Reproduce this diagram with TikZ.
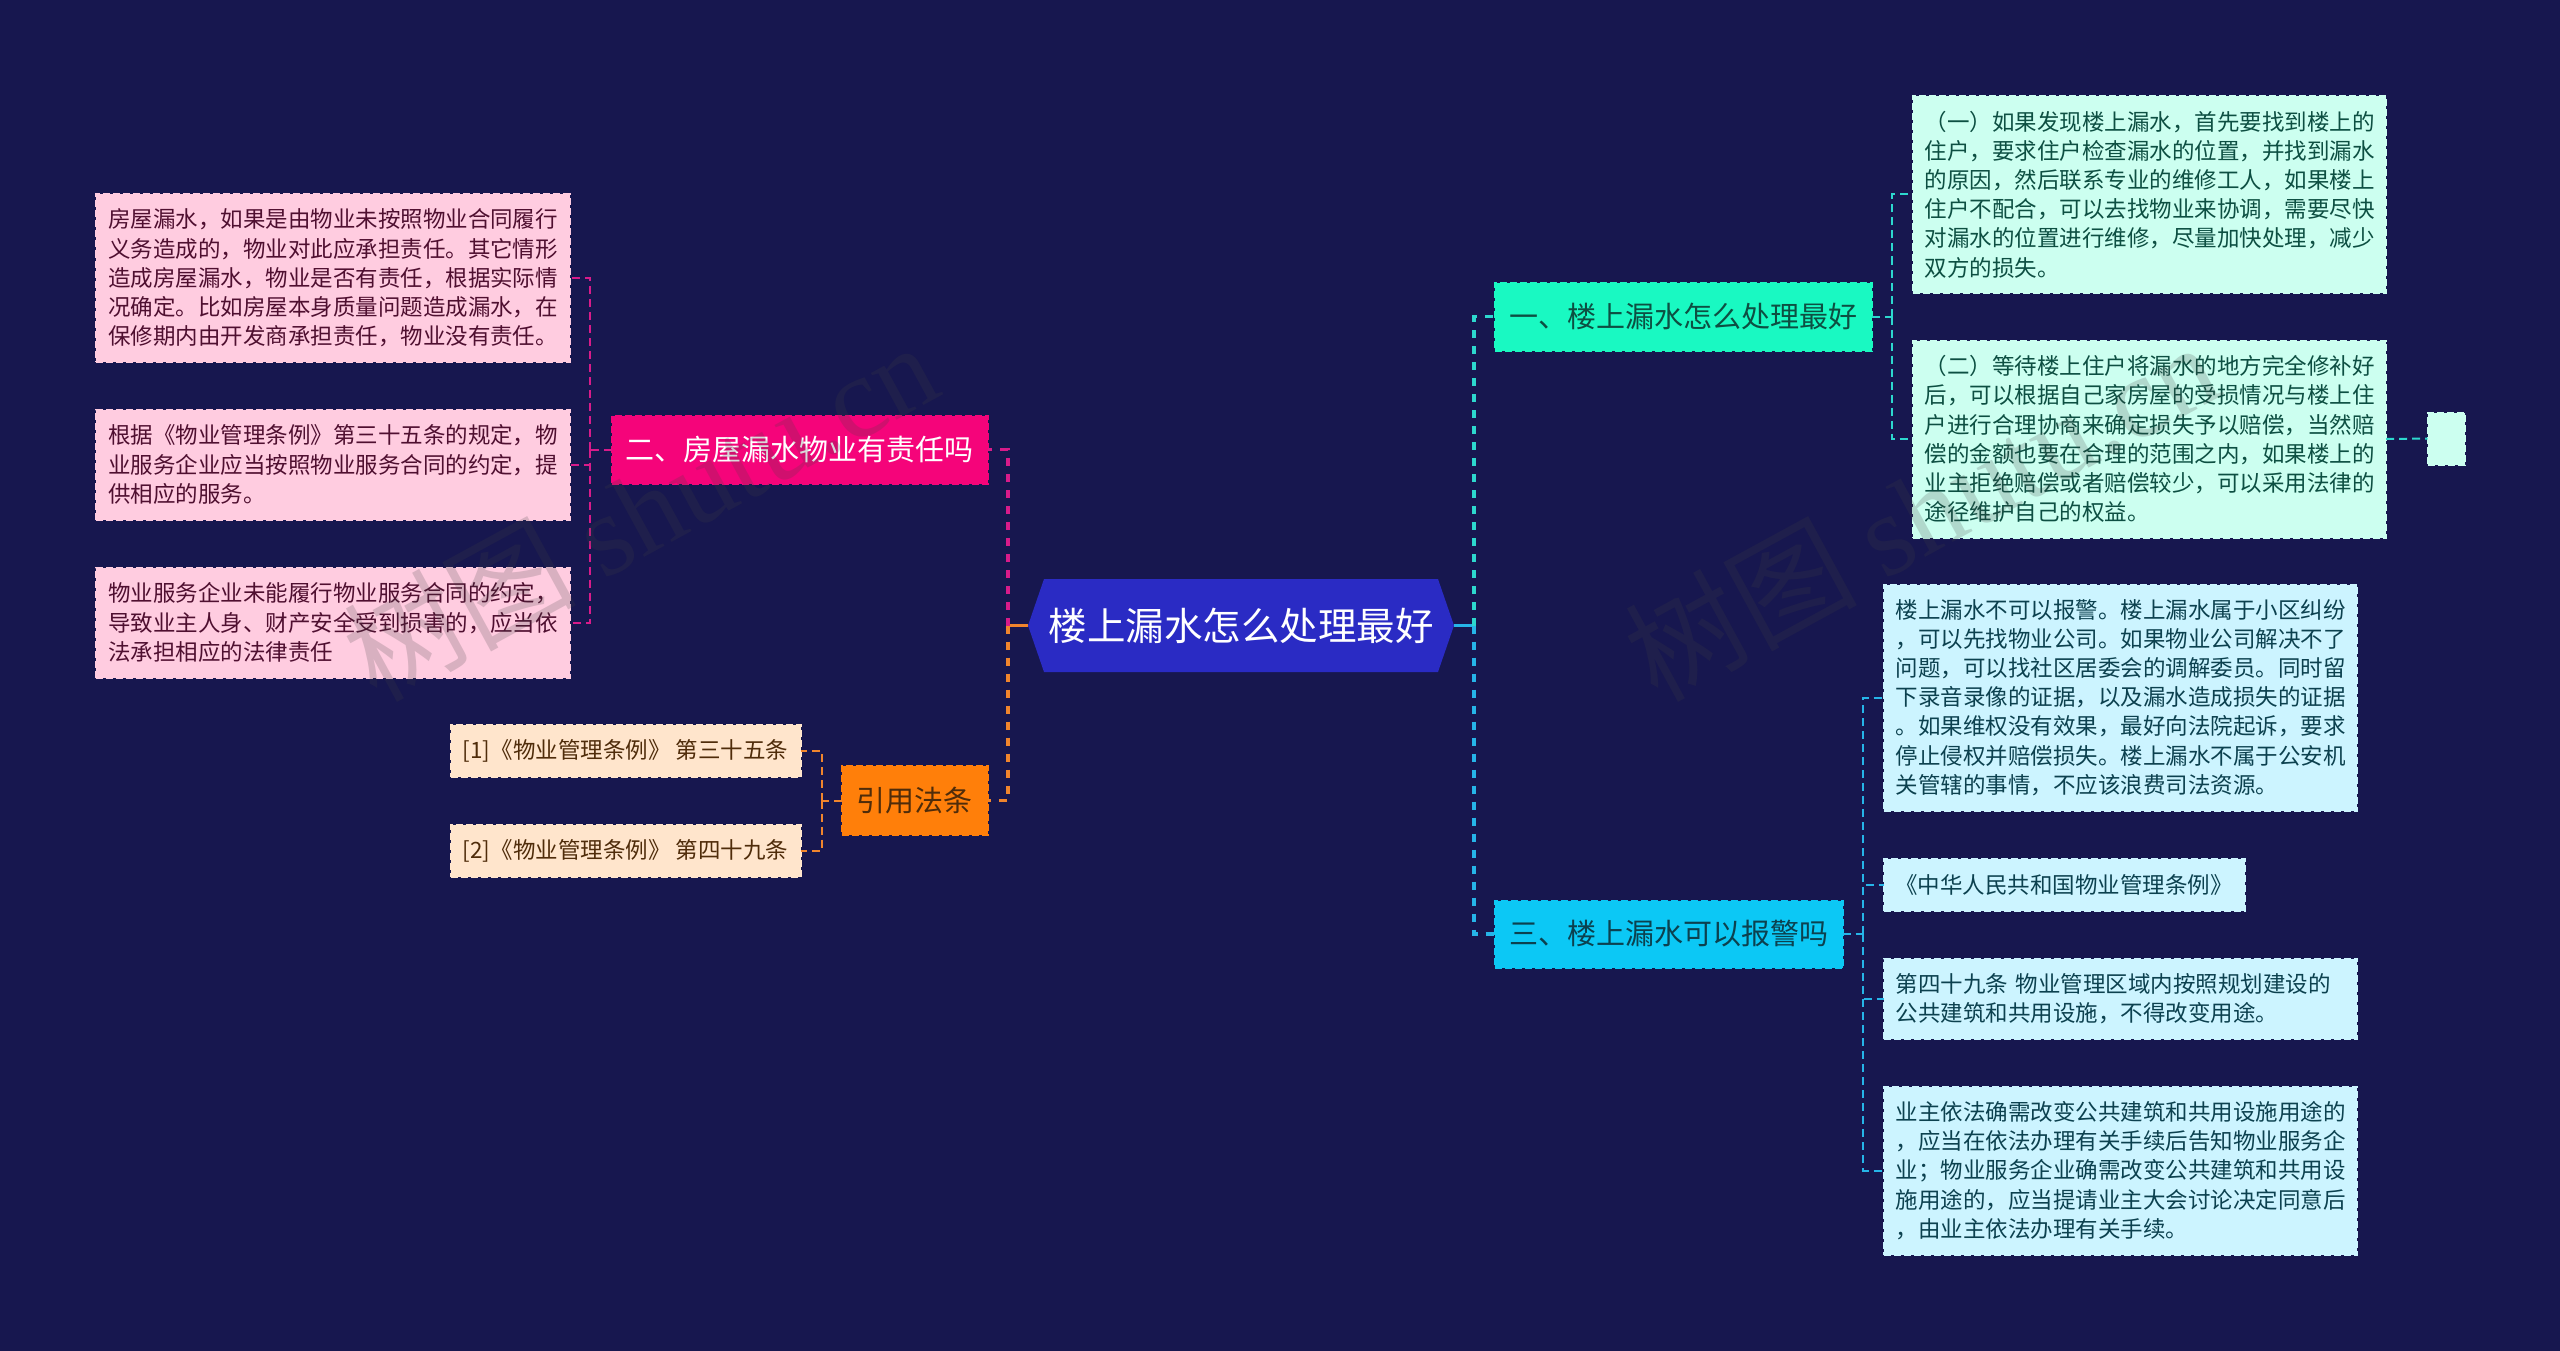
\documentclass[tikz,border=0pt]{standalone}
\usepackage{fontspec}
\setmainfont{Noto Sans CJK SC}
\newfontfamily\markfont{Liberation Serif}
\usetikzlibrary{shapes.symbols}
\definecolor{bgnavy}{HTML}{17174F}
\definecolor{rootblue}{HTML}{2A2BC4}
\definecolor{linkteal}{HTML}{2DD8CE}
\definecolor{linkrose}{HTML}{D81B8A}
\definecolor{linkamber}{HTML}{F0852D}
\definecolor{linksky}{HTML}{26B5E8}
\definecolor{topicteal}{HTML}{19F9C2}
\definecolor{topicrose}{HTML}{F5047A}
\definecolor{topicamber}{HTML}{FF7F0A}
\definecolor{topicsky}{HTML}{0CC8F5}
\definecolor{leafteal}{HTML}{CCFFF0}
\definecolor{leafrose}{HTML}{FFCCE0}
\definecolor{leafamber}{HTML}{FFE5CC}
\definecolor{leafsky}{HTML}{CCF4FF}
\definecolor{inkteal}{HTML}{0D4F42}
\definecolor{inkrose}{HTML}{4F0F30}
\definecolor{inkamber}{HTML}{4F2C0A}
\definecolor{inksky}{HTML}{0C414F}
\tikzset{
  boxbase/.style={rectangle,dash pattern=on 7pt off 3pt,line width=2pt,inner sep=0pt,outer sep=0pt},
  leaf/.style 2 args={boxbase,minimum width=#1-1,minimum height=#2-1,text width=#1-25,
    align=left,font=\fontsize{22.5}{29.2}\selectfont},
  chip/.style 2 args={boxbase,minimum width=#1-1,minimum height=#2-1,
    align=left,font=\fontsize{22.5}{29.2}\selectfont},
  topic/.style 2 args={boxbase,minimum width=#1-1,minimum height=#2-1,
    align=center,font=\fontsize{29}{36}\selectfont},
  tealbox/.style={draw=#1,fill=#1,text=inkteal},
  rosebox/.style={draw=#1,fill=#1,text=inkrose},
  amberbox/.style={draw=#1,fill=#1,text=inkamber},
  skybox/.style={draw=#1,fill=#1,text=inksky},
  hublink/.style={line width=3.5pt},
  mainlink/.style={line width=3.5pt,dash pattern=on 8pt off 8pt},
  twiglink/.style={line width=2pt,dash pattern=on 8pt off 5pt},
  watermark/.style={rotate=28.6,text=black!75,text opacity=0.2,font=\fontsize{116}{116}\selectfont}
}
\begin{document}
\begin{tikzpicture}[x=1pt,y=-1pt]
\fill[bgnavy] (0,0) rectangle (2560,1351);
\useasboundingbox (0,0) rectangle (2560,1351);

\coordinate (hubleft) at (1008,625.5);
\coordinate (hubright) at (1474,625.5);

\node[signal,signal to=west and east,signal pointer angle=142,minimum width=426,minimum height=93,
  inner sep=0pt,outer sep=0pt,fill=rootblue,text=white,font=\fontsize{38.5}{46}\selectfont]
  (root) at (1241,625.5) {楼上漏水怎么处理最好};

\node[topic={378}{69},tealbox=topicteal] (repair) at (1683.5,316.5) {一、楼上漏水怎么处理最好};
\node[topic={377}{69},rosebox=topicrose,text=white] (duty) at (799.5,449.5) {二、房屋漏水物业有责任吗};
\node[topic={147}{70},amberbox=topicamber] (laws) at (914.5,800.5) {引用法条};
\node[topic={349}{68},skybox=topicsky] (police) at (1668.5,934) {三、楼上漏水可以报警吗};

\node[leaf={474.5}{197},tealbox=leafteal] (repairone) at (2149.25,194.5)
  {（一）如果发现楼上漏水，首先要找到楼上的\\住户，要求住户检查漏水的位置，并找到漏水\\的原因，然后联系专业的维修工人，如果楼上\\住户不配合，可以去找物业来协调，需要尽快\\对漏水的位置进行维修，尽量加快处理，减少\\双方的损失。};
\node[leaf={474.5}{198},tealbox=leafteal] (repairtwo) at (2149.25,439)
  {（二）等待楼上住户将漏水的地方完全修补好\\后，可以根据自己家房屋的受损情况与楼上住\\户进行合理协商来确定损失予以赔偿，当然赔\\偿的金额也要在合理的范围之内，如果楼上的\\业主拒绝赔偿或者赔偿较少，可以采用法律的\\途径维护自己的权益。};
\node[chip={38}{53},tealbox=leafteal] (repairnote) at (2446,438.5) {};

\node[leaf={474.5}{168},rosebox=leafrose] (dutyone) at (332.75,278)
  {房屋漏水，如果是由物业未按照物业合同履行\\义务造成的，物业对此应承担责任。其它情形\\造成房屋漏水，物业是否有责任，根据实际情\\况确定。比如房屋本身质量问题造成漏水，在\\保修期内由开发商承担责任，物业没有责任。};
\node[leaf={474.5}{111},rosebox=leafrose] (dutytwo) at (332.75,464.5)
  {根据《物业管理条例》第三十五条的规定，物\\业服务企业应当按照物业服务合同的约定，提\\供相应的服务。};
\node[leaf={474.5}{111},rosebox=leafrose] (dutythree) at (332.75,622.5)
  {物业服务企业未能履行物业服务合同的约定，\\导致业主人身、财产安全受到损害的，应当依\\法承担相应的法律责任};

\node[chip={351}{53},amberbox=leafamber] (lawone) at (625.5,750.5)
  {[1]《物业管理条例》 第三十五条};
\node[chip={351}{53},amberbox=leafamber] (lawtwo) at (625.5,850.5)
  {[2]《物业管理条例》 第四十九条};

\node[leaf={474.5}{227},skybox=leafsky] (policeone) at (2120.25,697.5)
  {楼上漏水不可以报警。楼上漏水属于小区纠纷\\，可以先找物业公司。如果物业公司解决不了\\问题，可以找社区居委会的调解委员。同时留\\下录音录像的证据，以及漏水造成损失的证据\\。如果维权没有效果，最好向法院起诉，要求\\停止侵权并赔偿损失。楼上漏水不属于公安机\\关管辖的事情，不应该浪费司法资源。};
\node[chip={362}{53},skybox=leafsky] (policetwo) at (2064,884.5)
  {《中华人民共和国物业管理条例》};
\node[leaf={474.5}{81},skybox=leafsky] (policethree) at (2120.25,998.5)
  {第四十九条 物业管理区域内按照规划建设的\\公共建筑和共用设施，不得改变用途。};
\node[leaf={474.5}{169},skybox=leafsky] (policefour) at (2120.25,1170.5)
  {业主依法确需改变公共建筑和共用设施用途的\\，应当在依法办理有关手续后告知物业服务企\\业；物业服务企业确需改变公共建筑和共用设\\施用途的，应当提请业主大会讨论决定同意后\\，由业主依法办理有关手续。};

\draw[hublink,linkamber] (root.west) -- (hubleft);
\draw[hublink,linksky] (root.east) -- (hubright);
\draw[mainlink,linkrose] (hubleft) |- (duty.east);
\draw[mainlink,linkamber] (hubleft) |- (laws.east);
\draw[mainlink,linkteal] (hubright) |- (repair.west);
\draw[mainlink,linksky] (hubright) |- (police.west);

\coordinate (hubduty) at (590,449.5);
\coordinate (hublaws) at (822,800.5);
\coordinate (hubrepair) at (1892,316.5);
\coordinate (hubpolice) at (1863,934);

\draw[twiglink,linkrose] (duty.west) -- (hubduty);
\draw[twiglink,linkrose] (hubduty) |- (dutyone.east);
\draw[twiglink,linkrose] (hubduty) |- (dutytwo.east);
\draw[twiglink,linkrose] (hubduty) |- (dutythree.east);

\draw[twiglink,linkamber] (laws.west) -- (hublaws);
\draw[twiglink,linkamber] (hublaws) |- (lawone.east);
\draw[twiglink,linkamber] (hublaws) |- (lawtwo.east);

\draw[twiglink,linkteal] (repair.east) -- (hubrepair);
\draw[twiglink,linkteal] (hubrepair) |- (repairone.west);
\draw[twiglink,linkteal] (hubrepair) |- (repairtwo.west);
\draw[twiglink,linkteal] (repairtwo.east) -- (repairnote.west);

\draw[twiglink,linksky] (police.east) -- (hubpolice);
\draw[twiglink,linksky] (hubpolice) |- (policeone.west);
\draw[twiglink,linksky] (hubpolice) |- (policetwo.west);
\draw[twiglink,linksky] (hubpolice) |- (policethree.west);
\draw[twiglink,linksky] (hubpolice) |- (policefour.west);

\node[watermark] (markleft) at (640,510) {树图 {\markfont shutu.cn}};
\node[watermark] (markright) at (1921,510) {树图 {\markfont shutu.cn}};
\end{tikzpicture}
\end{document}
